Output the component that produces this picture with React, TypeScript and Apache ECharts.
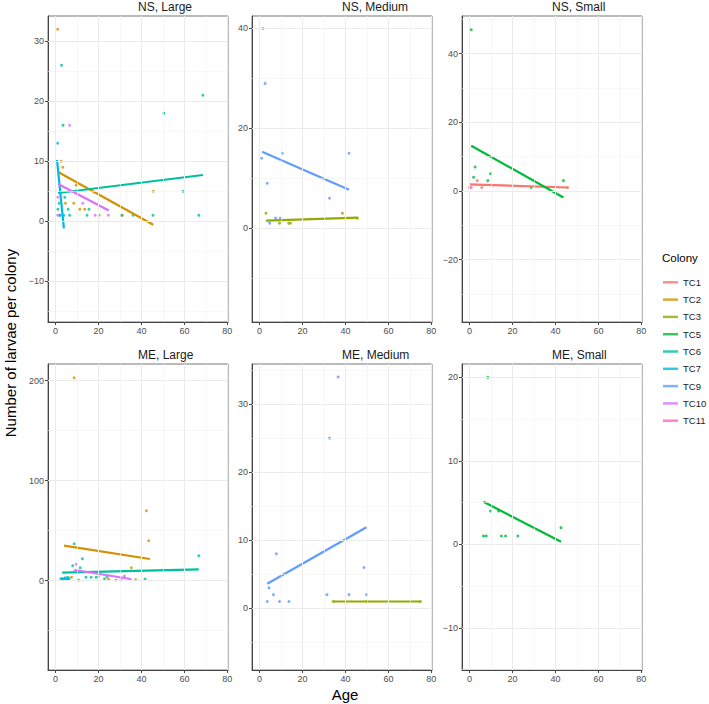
import React, { useEffect, useRef } from 'react';
import * as echarts from 'echarts';

const FONT = '"Liberation Sans", Arial, Helvetica, sans-serif';

const colonies = ['TC1', 'TC2', 'TC3', 'TC5', 'TC6', 'TC7', 'TC9', 'TC10', 'TC11'];
const colonyColors = ['#F8766D', '#D39200', '#93AA00', '#00BA38', '#00C19F', '#00B9E3', '#619CFF', '#DB72FB', '#FF61C3'];
const panelTitles = ['NS, Large', 'NS, Medium', 'NS, Small', 'ME, Large', 'ME, Medium', 'ME, Small'];

// x axis (shared)
const xRange = [-3.5, 80.3];
const xTicks = [0, 20, 40, 60, 80];
const xMinor = [10, 30, 50, 70];

// y axes (free per panel)
const yRanges = [[-16.8, 34.2], [-18.8, 42.5], [-38.2, 51], [-89.3, 216.7], [-9.07, 35.9], [-15.05, 21.6]];
const yTicks = [[-10, 0, 10, 20, 30], [0, 20, 40], [-20, 0, 20, 40], [0, 100, 200], [0, 10, 20, 30], [-10, 0, 10, 20]];
const yMinor = [[-15, -5, 5, 15, 25], [-10, 10, 30], [-30, -10, 10, 30, 50], [-50, 50, 150], [-5, 5, 15, 25, 35], [-15, -5, 5, 15]];

// ---- NS, Large ----
const nsLargeTC2 = [[1, 32], [2.6, 10], [3.4, 9], [9.6, 6], [4.6, 3], [8.5, 3], [11.3, 2], [13.6, 2], [20.3, 1], [31.1, 1], [45.5, 5]];
const nsLargeTC6 = [[2.8, 26], [3.5, 16], [50.5, 18], [68.6, 21], [59.4, 5], [4.3, 4], [1.7, 3], [1.1, 2], [5.9, 2], [15.6, 2], [2, 1], [6.6, 1], [14.7, 1], [30.7, 1], [36.1, 1], [45.4, 1], [66.7, 1]];
const nsLargeTC7 = [[1, 13], [2, 1], [3.9, 1]];
const nsLargeTC10 = [[6.6, 16], [1.1, 4], [1, 1], [12.7, 3], [18.4, 1], [24.6, 1]];
const nsLargeFitTC2 = [[1.2, 8.2], [45.5, -0.6]];
const nsLargeFitTC6 = [[1.2, 4.7], [68.6, 7.7]];
const nsLargeFitTC7 = [[0.7, 10.2], [3.9, -1.2]];
const nsLargeFitTC10 = [[1.2, 6.2], [24.8, 1.8]];

// ---- NS, Medium ----
const nsMediumTC9 = [[1.6, 40], [2.6, 29], [1, 14], [10.6, 15], [3.6, 9], [41.7, 15], [32.6, 6], [4.7, 1], [7.5, 2], [9.7, 2]];
const nsMediumTC3 = [[3, 3], [9.3, 1], [13.6, 1], [14.4, 1], [38.6, 3], [45.6, 2]];
const nsMediumFitTC9 = [[1.2, 15.3], [41.7, 7.7]];
const nsMediumFitTC3 = [[3, 1.5], [45.6, 2.1]];

// ---- NS, Small ----
const nsSmallTC1 = [[0, 1], [3.6, 3], [5.7, 1], [45.7, 1]];
const nsSmallTC5 = [[0.8, 47], [2.6, 7], [1.9, 4], [9.8, 5], [8.5, 3], [28.7, 1], [43.7, 3]];
const nsSmallTC11 = [[0.8, 1]];
const nsSmallFitTC1 = [[0, 1.9], [45.7, 1.0]];
const nsSmallFitTC5 = [[0.8, 13.2], [43.7, -1.9]];

// ---- ME, Large ----
const meLargeTC2 = [[8.7, 203], [42.3, 70], [43.4, 40], [35.3, 13], [37.3, 1], [7.4, 3.5], [4, 2], [24.7, 1.3], [28.2, 0.7], [30.5, 0.7]];
const meLargeTC6 = [[66.7, 25], [8.7, 37], [12.5, 22], [8, 15], [11.5, 13], [5.7, 3.4], [10.7, 0.7], [14.2, 3.4], [16.6, 3.4], [18.9, 3.4], [22.8, 2], [24, 4], [41.7, 1.7], [3.1, 2]];
const meLargeTC7 = [[2.5, 2], [3.5, 1], [4.5, 3], [5.5, 1], [6.3, 2]];
const meLargeTC10 = [[9.6, 16.4], [9, 10], [20, 4], [32.1, 4.7], [34.9, 1]];
const meLargeFitTC2 = [[4, 35], [43.9, 21.7]];
const meLargeFitTC6 = [[3.1, 8], [66.7, 11.4]];
const meLargeFitTC7 = [[2.5, 1.7], [6.3, 2.1]];
const meLargeFitTC10 = [[9, 10.7], [34.9, 1.7]];

// ---- ME, Medium ----
const meMediumTC9 = [[36.6, 34], [32.6, 25], [7.8, 8], [48.6, 6], [4.4, 3], [6.5, 2], [3.6, 1], [9.3, 1], [13.7, 1], [31.4, 2], [41.7, 2], [49.8, 2]];
const meMediumTC3 = [[34.3, 1], [50, 1], [74.9, 1]];
const meMediumFitTC9 = [[3.6, 3.6], [49.8, 11.9]];
const meMediumFitTC3 = [[34.3, 1], [74.9, 1]];

// ---- ME, Small ----
const meSmallTC5 = [[8.5, 20], [6.5, 1], [7.8, 1], [9.8, 4], [13.5, 4], [14.8, 1], [16.8, 1], [22.5, 1], [42.6, 2]];
const meSmallFitTC5 = [[6.5, 5.1], [42.6, 0.3]];

const panelPoints: Record<string, number[][]>[] = [
  { TC2: nsLargeTC2, TC6: nsLargeTC6, TC7: nsLargeTC7, TC10: nsLargeTC10 },
  { TC3: nsMediumTC3, TC9: nsMediumTC9 },
  { TC1: nsSmallTC1, TC5: nsSmallTC5, TC11: nsSmallTC11 },
  { TC2: meLargeTC2, TC6: meLargeTC6, TC7: meLargeTC7, TC10: meLargeTC10 },
  { TC3: meMediumTC3, TC9: meMediumTC9 },
  { TC5: meSmallTC5 },
];
const panelFits: Record<string, number[][]>[] = [
  { TC2: nsLargeFitTC2, TC6: nsLargeFitTC6, TC7: nsLargeFitTC7, TC10: nsLargeFitTC10 },
  { TC3: nsMediumFitTC3, TC9: nsMediumFitTC9 },
  { TC1: nsSmallFitTC1, TC5: nsSmallFitTC5 },
  { TC2: meLargeFitTC2, TC6: meLargeFitTC6, TC7: meLargeFitTC7, TC10: meLargeFitTC10 },
  { TC3: meMediumFitTC3, TC9: meMediumFitTC9 },
  { TC5: meSmallFitTC5 },
];

const colLefts = [48, 252, 462];
const rowTops = [16, 364];
const PW = 180;
const PH = 306;

const minus = (v: number) => String(v).replace('-', '\u2212');

function buildOption() {
  const grids: any[] = [];
  const xAxes: any[] = [];
  const yAxes: any[] = [];
  const series: any[] = [];
  const graphics: any[] = [];

  for (let p = 0; p < 6; p++) {
    const left = colLefts[p % 3];
    const top = rowTops[Math.floor(p / 3)];
    grids.push({ left, top, width: PW, height: PH, show: true, borderColor: '#777', borderWidth: 1, backgroundColor: '#fff' });
    xAxes.push({
      type: 'value', gridIndex: p, min: xRange[0], max: xRange[1],
      axisLine: { show: true, onZero: false, lineStyle: { color: '#444', width: 1 } },
      axisTick: { show: true, customValues: xTicks, length: 3, lineStyle: { color: '#444' } },
      axisLabel: { customValues: xTicks, color: '#4D4D4D', fontSize: 9, margin: 4, fontFamily: FONT, formatter: minus },
      splitLine: { show: false },
    });
    yAxes.push({
      type: 'value', gridIndex: p, min: yRanges[p][0], max: yRanges[p][1],
      axisLine: { show: true, onZero: false, lineStyle: { color: '#444', width: 1 } },
      axisTick: { show: true, customValues: yTicks[p], length: 3, lineStyle: { color: '#444' } },
      axisLabel: { customValues: yTicks[p], color: '#4D4D4D', fontSize: 9, margin: 4, fontFamily: FONT, formatter: minus },
      splitLine: { show: false },
    });
    const major = { color: '#EBEBEB', width: 1, type: 'solid' };
    const minor = { color: '#F2F2F2', width: 0.6, type: 'solid' };
    series.push({
      type: 'scatter', xAxisIndex: p, yAxisIndex: p, data: [], z: 1, silent: true,
      markLine: {
        silent: true, symbol: ['none', 'none'], label: { show: false }, animation: false,
        emphasis: { disabled: true },
        data: [
          ...xMinor.map((v) => ({ xAxis: v, lineStyle: minor })),
          ...yMinor[p].map((v) => ({ yAxis: v, lineStyle: minor })),
          ...xTicks.map((v) => ({ xAxis: v, lineStyle: major })),
          ...yTicks[p].map((v) => ({ yAxis: v, lineStyle: major })),
        ],
      },
    });
    const pts = panelPoints[p];
    const fits = panelFits[p];
    colonies.forEach((c, ci) => {
      if (pts[c]) {
        series.push({
          name: c, type: 'scatter', xAxisIndex: p, yAxisIndex: p, data: pts[c], symbol: 'circle',
          symbolSize: 3, itemStyle: { color: colonyColors[ci] }, z: 3, silent: true,
        });
      }
      if (fits[c]) {
        series.push({
          name: c, type: 'line', xAxisIndex: p, yAxisIndex: p, data: fits[c], showSymbol: false, symbol: 'none',
          lineStyle: { color: colonyColors[ci], width: 2.2 }, itemStyle: { color: colonyColors[ci] }, z: 4, silent: true,
        });
      }
    });
    graphics.push({
      type: 'text', left: left + PW / 2, top: top - 15, z: 10,
      style: { text: panelTitles[p], fill: '#1A1A1A', font: `12px ${FONT}`, textAlign: 'center' },
    });
  }

  graphics.push({
    type: 'text', x: 345, y: 694, z: 10,
    style: { text: 'Age', fill: '#000', font: `15px ${FONT}`, textAlign: 'center', textVerticalAlign: 'middle' },
  });
  graphics.push({
    type: 'text', x: 10, y: 343, rotation: Math.PI / 2, z: 10,
    style: { text: 'Number of larvae per colony', fill: '#000', font: `15px ${FONT}`, textAlign: 'center', textVerticalAlign: 'middle' },
  });
  graphics.push({
    type: 'text', x: 662, y: 258, z: 10,
    style: { text: 'Colony', fill: '#000', font: `11.5px ${FONT}`, textAlign: 'left', textVerticalAlign: 'middle' },
  });

  return {
    animation: false,
    backgroundColor: '#fff',
    textStyle: { fontFamily: FONT },
    grid: grids,
    xAxis: xAxes,
    yAxis: yAxes,
    series,
    graphic: graphics,
    legend: {
      data: colonies, orient: 'vertical', left: 658, top: 271.3, icon: 'rect', itemWidth: 15, itemHeight: 2.5,
      itemGap: 5.3, selectedMode: false,
      textStyle: { fontSize: 9.5, lineHeight: 12, color: '#1A1A1A', fontFamily: FONT },
    },
  };
}

export default function App() {
  const ref = useRef<HTMLDivElement>(null);
  useEffect(() => {
    if (!ref.current) return;
    const chart = echarts.init(ref.current, undefined, { renderer: 'svg' });
    chart.setOption(buildOption() as any);
    return () => chart.dispose();
  }, []);
  return <div ref={ref} style={{ position: 'fixed', left: 0, top: 0, width: 709, height: 704 }} />;
}
